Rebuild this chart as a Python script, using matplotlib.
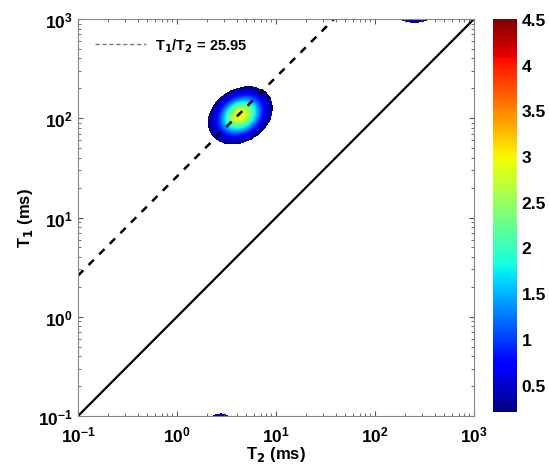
import numpy as np
import matplotlib
matplotlib.use("Agg")
import matplotlib.pyplot as plt
from matplotlib.lines import Line2D
from matplotlib.ticker import LogLocator, NullFormatter

plt.rcParams['font.family'] = ['Liberation Sans', 'DejaVu Sans']
plt.rcParams['font.weight'] = 'bold'

# peak parameters: log10 T2 centre, log10 T1 centre, widths, amplitude
peak_t2 = [0.64, 0.44, 2.40, 1.65]
peak_t1 = [2.03, -1.05, 3.02, -1.04]
peak_w2 = [0.14, 0.07, 0.12, 0.04]
peak_w1 = [0.125, 0.05, 0.04, 0.04]
peak_amp = [3.0, 0.6, 0.5, 0.3]
peak_rho = [0.25, 0.0, 0.0, 0.0]

ratio = 25.95
cbar_ticks = [0.5, 1, 1.5, 2, 2.5, 3, 3.5, 4, 4.5]
vmin, vmax = 0.2, 4.5

lt2 = np.linspace(-1, 3, 500)
lt1 = np.linspace(-1, 3, 500)
X, Y = np.meshgrid(lt2, lt1)
Z = np.zeros_like(X)
for cx, cy, wx, wy, a, r in zip(peak_t2, peak_t1, peak_w2, peak_w1, peak_amp, peak_rho):
    dx = (X - cx) / wx
    dy = (Y - cy) / wy
    Z += a * np.exp(-(dx**2 - 2 * r * dx * dy + dy**2) / (2 * (1 - r**2)))

fig = plt.figure(figsize=(5.49, 4.77), dpi=100)
ax = fig.add_axes([78 / 549, 1 - 417 / 477, 396 / 549, 397 / 477])
cax = fig.add_axes([493 / 549, 1 - 413 / 477, 24 / 549, 393 / 477])

Zm = np.ma.masked_less(Z, vmin)
levels = np.linspace(vmin, vmax, 200)
cf = ax.contourf(10**X, 10**Y, Zm, levels=levels, cmap='jet', vmin=vmin, vmax=vmax)

t2 = np.array([0.1, 1000])
ax.plot(t2, t2, color='black', lw=1.6)
ax.plot(t2, ratio * t2, color='black', lw=1.8, ls=(0, (3, 3)))

ax.set_xscale('log')
ax.set_yscale('log')
ax.set_xlim(0.1, 1000)
ax.set_ylim(0.1, 1000)
ax.set_xlabel(r'T$_2$ (ms)', fontsize=12, fontweight='bold', labelpad=0)
ax.set_ylabel(r'T$_1$ (ms)', fontsize=12, fontweight='bold', labelpad=2)
ax.tick_params(which='both', direction='in', top=True, right=True, labelsize=12.5,
               colors='#555555', labelcolor='black')
ax.tick_params(axis='x', pad=6)
ax.xaxis.set_major_locator(LogLocator(base=10, numticks=10))
ax.yaxis.set_major_locator(LogLocator(base=10, numticks=10))
ax.xaxis.set_minor_locator(LogLocator(base=10, subs=np.arange(2, 10), numticks=50))
ax.yaxis.set_minor_locator(LogLocator(base=10, subs=np.arange(2, 10), numticks=50))
ax.xaxis.set_minor_formatter(NullFormatter())
ax.yaxis.set_minor_formatter(NullFormatter())
for s in ax.spines.values():
    s.set_color('#888888')

proxy = Line2D([], [], color='#777777', lw=1, ls=(0, (3, 2)))
ax.legend([proxy], [r'T$_1$/T$_2$ = 25.95'], loc='upper left', frameon=False,
          handlelength=3.5, handletextpad=0.6, bbox_to_anchor=(0.01, 0.99),
          prop={'weight': 'bold', 'size': 10.5})

cb = fig.colorbar(cf, cax=cax, ticks=cbar_ticks)
cb.ax.set_yticklabels([f'{v:g}' for v in cbar_ticks])
cb.ax.tick_params(labelsize=12.5, length=0)
cb.outline.set_visible(False)

fig.savefig('out.png', dpi=100)
